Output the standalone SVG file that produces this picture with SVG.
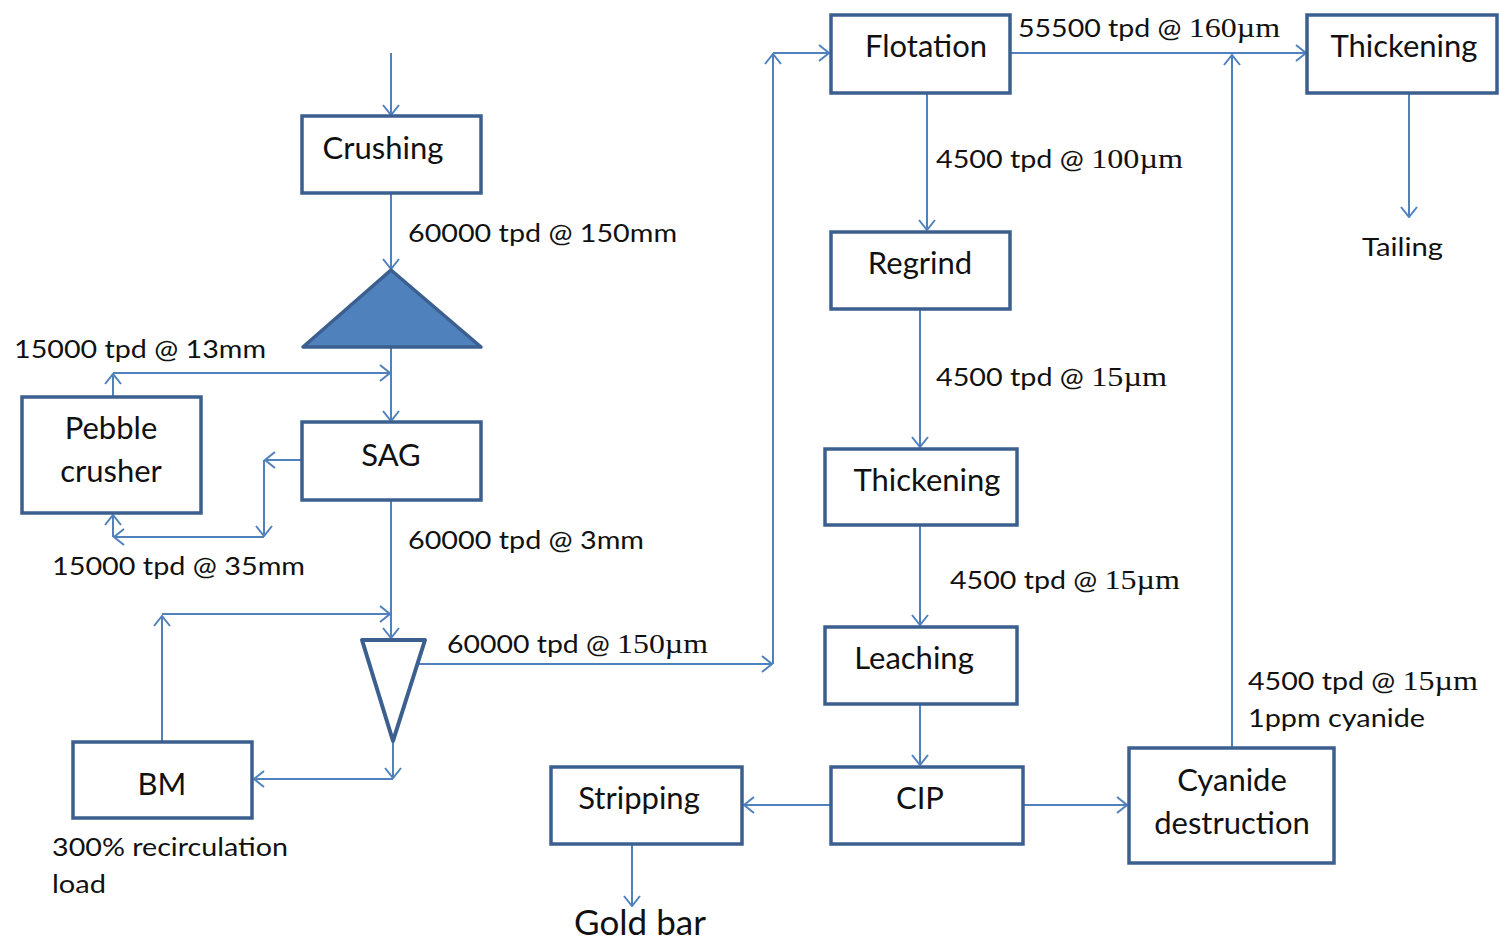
<svg xmlns="http://www.w3.org/2000/svg" width="1499" height="943" viewBox="0 0 1499 943">
<style>
.box{fill:#fff;stroke:#3B5F8E;stroke-width:3.5}
.ln{fill:none;stroke:#4F81BD;stroke-width:2;marker-end:url(#ah)}
.t{font-family:Lato,"Open Sans",sans-serif;font-size:31px;fill:#111;text-anchor:middle}
.l{font-family:Lato,"Open Sans",sans-serif;font-size:25px;fill:#111}
.s{font-family:"Liberation Serif",serif;font-size:28px}
</style>
<defs>
<marker id="ah" viewBox="0 0 12 18" refX="11" refY="9" markerWidth="12" markerHeight="18" markerUnits="userSpaceOnUse" orient="auto">
<path d="M1,1 L11,9 L1,17" fill="none" stroke="#4F81BD" stroke-width="2"/>
</marker>
</defs>
<rect width="1499" height="943" fill="#fff"/>
<g id="connectors">
<line class="ln" x1="391" y1="53" x2="391" y2="115"/>
<line class="ln" x1="391" y1="194" x2="391" y2="269"/>
<line class="ln" x1="391" y1="348" x2="391" y2="421"/>
<line class="ln" x1="113" y1="397" x2="113" y2="374"/>
<line class="ln" x1="113" y1="373" x2="390" y2="373"/>
<line class="ln" x1="302" y1="460" x2="265" y2="460"/>
<line class="ln" x1="264" y1="460" x2="264" y2="536"/>
<line class="ln" x1="264" y1="537" x2="114" y2="537"/>
<line class="ln" x1="113" y1="537" x2="113" y2="515"/>
<line class="ln" x1="391" y1="501" x2="391" y2="638"/>
<line class="ln" x1="162" y1="742" x2="162" y2="616"/>
<line class="ln" x1="162" y1="614" x2="390" y2="614"/>
<line class="ln" x1="393" y1="742" x2="393" y2="778"/>
<line class="ln" x1="393" y1="779" x2="254" y2="779"/>
<line class="ln" x1="418" y1="664" x2="772" y2="664"/>
<line class="ln" x1="773" y1="664" x2="773" y2="54"/>
<line class="ln" x1="773" y1="53" x2="829" y2="53"/>
<line class="ln" x1="1010" y1="53" x2="1306" y2="53"/>
<line class="ln" x1="1409" y1="94" x2="1409" y2="217"/>
<line class="ln" x1="927" y1="94" x2="927" y2="230"/>
<line class="ln" x1="920" y1="310" x2="920" y2="447"/>
<line class="ln" x1="920" y1="526" x2="920" y2="625"/>
<line class="ln" x1="920" y1="705" x2="920" y2="765"/>
<line class="ln" x1="831" y1="805" x2="744" y2="805"/>
<line class="ln" x1="632" y1="845" x2="632" y2="906"/>
<line class="ln" x1="1023" y1="805" x2="1127" y2="805"/>
<line class="ln" x1="1232" y1="748" x2="1232" y2="55"/>
</g>
<g id="crushing"><rect class="box" x="302" y="116" width="179" height="77"/><text class="t" x="383" y="159">Crushing</text></g>
<g id="screen"><polygon points="391,270 481,347 303,347" fill="#4F81BD" stroke="#3B5F8E" stroke-width="3.5" stroke-linejoin="round"/></g>
<g id="pebble"><rect class="box" x="22" y="397" width="179" height="116"/><text class="t" x="111" y="439">Pebble</text><text class="t" x="111" y="482">crusher</text></g>
<g id="sag"><rect class="box" x="302" y="422" width="179" height="78"/><text class="t" x="391" y="466">SAG</text></g>
<g id="cyclone"><polygon points="362,640 425,640 393,741" fill="#fff" stroke="#3B5F8E" stroke-width="4" stroke-linejoin="round"/></g>
<g id="bm"><rect class="box" x="73" y="742" width="179" height="76"/><text class="t" x="162" y="795">BM</text></g>
<g id="flotation"><rect class="box" x="831" y="15" width="179" height="78"/><text class="t" x="926" y="57">Flotation</text></g>
<g id="thickening1"><rect class="box" x="1307" y="15" width="190" height="78"/><text class="t" x="1404" y="57">Thickening</text></g>
<g id="tailing"><text class="l" x="1362" y="256" textLength="81" lengthAdjust="spacingAndGlyphs">Tailing</text></g>
<g id="regrind"><rect class="box" x="831" y="232" width="179" height="77"/><text class="t" x="920" y="274">Regrind</text></g>
<g id="thickening2"><rect class="box" x="825" y="449" width="192" height="76"/><text class="t" x="927" y="491">Thickening</text></g>
<g id="leaching"><rect class="box" x="825" y="627" width="192" height="77"/><text class="t" x="914" y="669">Leaching</text></g>
<g id="cip"><rect class="box" x="831" y="767" width="192" height="77"/><text class="t" x="920" y="809">CIP</text></g>
<g id="stripping"><rect class="box" x="551" y="767" width="191" height="77"/><text class="t" x="639" y="809">Stripping</text></g>
<g id="goldbar"><text class="t" x="640" y="935" style="font-size:35px">Gold bar</text></g>
<g id="cyanide"><rect class="box" x="1129" y="748" width="205" height="115"/><text class="t" x="1232" y="791">Cyanide</text><text class="t" x="1232" y="834">destruction</text></g>
<g id="labels">
<text class="l" x="408" y="242" textLength="269" lengthAdjust="spacingAndGlyphs">60000 tpd @ 150mm</text>
<text class="l" x="14" y="358" textLength="252" lengthAdjust="spacingAndGlyphs">15000 tpd @ 13mm</text>
<text class="l" x="52" y="575" textLength="253" lengthAdjust="spacingAndGlyphs">15000 tpd @ 35mm</text>
<text class="l" x="408" y="549" textLength="236" lengthAdjust="spacingAndGlyphs">60000 tpd @ 3mm</text>
<text class="l" x="447" y="653" textLength="261" lengthAdjust="spacingAndGlyphs">60000 tpd @ <tspan class="s">150µm</tspan></text>
<text class="l" x="52" y="856" textLength="236" lengthAdjust="spacingAndGlyphs">300% recirculation</text>
<text class="l" x="52" y="893" textLength="54" lengthAdjust="spacingAndGlyphs">load</text>
<text class="l" x="1018" y="37" textLength="262" lengthAdjust="spacingAndGlyphs">55500 tpd @ <tspan class="s">160µm</tspan></text>
<text class="l" x="936" y="168" textLength="247" lengthAdjust="spacingAndGlyphs">4500 tpd @ <tspan class="s">100µm</tspan></text>
<text class="l" x="936" y="386" textLength="231" lengthAdjust="spacingAndGlyphs">4500 tpd @ <tspan class="s">15µm</tspan></text>
<text class="l" x="950" y="589" textLength="230" lengthAdjust="spacingAndGlyphs">4500 tpd @ <tspan class="s">15µm</tspan></text>
<text class="l" x="1248" y="690" textLength="230" lengthAdjust="spacingAndGlyphs">4500 tpd @ <tspan class="s">15µm</tspan></text>
<text class="l" x="1248" y="727" textLength="177" lengthAdjust="spacingAndGlyphs">1ppm cyanide</text>
</g>
</svg>
